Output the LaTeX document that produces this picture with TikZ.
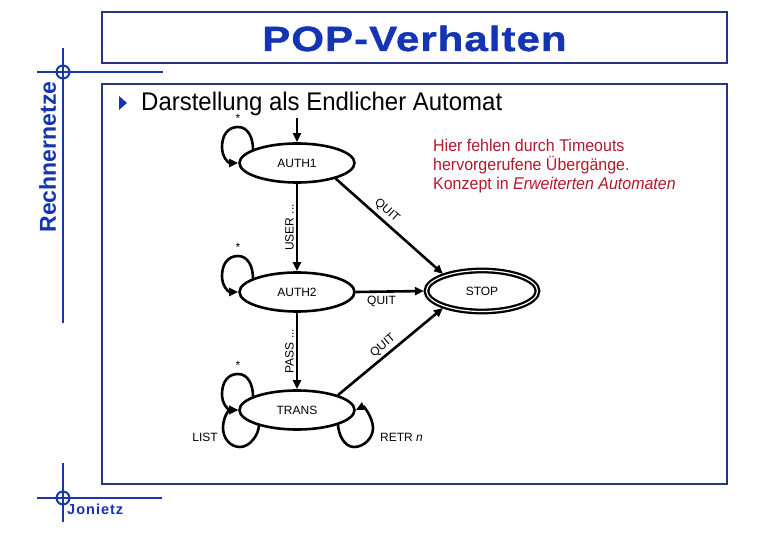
\documentclass[tikz,border=0pt]{standalone}
\usepackage{fontspec}
\setmainfont{Liberation Sans}
\newfontfamily\titlefont[FakeStretch=1.2,LetterSpace=3,FakeBold=1.2]{Liberation Sans}
\newfontfamily\narrowfont[FakeStretch=0.94]{Liberation Sans}
\newfontfamily\authorfont[LetterSpace=7]{Liberation Sans}
\usetikzlibrary{shapes.geometric,arrows.meta,calc}
\definecolor{titleblue}{RGB}{20,52,180}
\definecolor{crossblue}{RGB}{25,55,165}
\definecolor{framenavy}{RGB}{35,55,125}
\definecolor{notered}{RGB}{175,25,45}
\tikzset{
  frame/.style={draw=framenavy,line width=1.3pt},
  crossline/.style={draw=crossblue,line width=2pt},
  state/.style={ellipse,draw,line width=2.6pt,minimum width=115pt,minimum height=39pt,inner sep=0pt,font=\fontsize{12}{14}\selectfont},
  edge/.style={line width=2.6pt,-{Triangle[length=9pt,width=8pt]}},
  lbl/.style={font=\fontsize{12}{14}\selectfont,inner sep=2pt},
  note/.style={notered,anchor=base west,inner sep=0pt,font=\narrowfont\fontsize{17}{19}\selectfont}
}
\begin{document}
\begin{tikzpicture}[x=1pt,y=-1pt]
\useasboundingbox (0,0) rectangle (780,540);
% frames
\draw[frame] (102,12) rectangle (727,63);
\draw[frame] (102,84) rectangle (727,484);
\node[anchor=base,titleblue,inner sep=0pt,font=\titlefont\bfseries\fontsize{35}{40}\selectfont] (title) at (414.5,51) {POP-Verhalten};
% crosses
\draw[crossline] (63,48) -- (63,323);
\draw[crossline] (37,72) -- (163,72);
\draw[crossline] (63,72) circle (6.5);
\draw[crossline] (63,463) -- (63,522);
\draw[crossline] (37,498) -- (162,498);
\draw[crossline] (63,498) circle (6.5);
\node[rotate=90,anchor=base,titleblue,inner sep=0pt,font=\bfseries\fontsize{23}{26}\selectfont] (brand) at (56,157) {Rechnernetze};
\node[anchor=base west,titleblue,inner sep=0pt,font=\authorfont\bfseries\fontsize{14.5}{16}\selectfont] (author) at (67,514) {Jonietz};
% bullet
\fill[titleblue] (119,96) -- (119,110) -- (127,103) -- cycle;
\node[anchor=base west,inner sep=0pt,font=\narrowfont\fontsize{25.5}{28}\selectfont] (head) at (141,111) {Darstellung als Endlicher Automat};
% note
\node[note] (n1) at (433,151.5) {Hier fehlen durch Timeouts};
\node[note] (n2) at (433,171) {hervorgerufene Übergänge.};
\node[note] (n3) at (433,190) {Konzept in \textit{Erweiterten Automaten}};
% states
\node[state] (a1) at (297,163) {AUTH1};
\node[state] (a2) at (297,292) {AUTH2};
\node[state] (tr) at (297,410) {TRANS};
\node[state,double,double distance=1.2pt,line width=2.3pt,minimum width=111pt,minimum height=41pt] (stop) at (482,291) {STOP};
\coordinate (init) at (297,118);
% edges
\draw[edge] (init) -- (a1);
\draw[edge] (a1) -- node[lbl,midway,rotate=90,anchor=south] {USER ...} (a2);
\draw[edge] (a2) -- node[lbl,midway,rotate=90,anchor=south] {PASS ...} (tr);
\draw[edge,shorten >=1.5pt] (a1.-22) -- node[lbl,pos=0.41,sloped,above,inner sep=3.5pt] {QUIT} (stop.157);
\draw[edge,shorten >=1.5pt] (a2.east) -- node[lbl,pos=0.37,below,inner sep=3pt] {QUIT} (stop.west);
\draw[edge,shorten >=1.5pt] (tr.20) -- node[lbl,pos=0.48,sloped,above,inner sep=2.5pt] {QUIT} (stop.203);
% self loops (upper left)
\foreach \s in {a1,a2,tr}{
  \draw[edge] ($(\s)+(-44,-13.5)$) .. controls +(0,-12) and +(10,0) .. ($(\s)+(-59,-36)$)
     .. controls +(-10,0) and +(0,-12) .. ($(\s)+(-75,-16)$)
     .. controls +(0,10) and +(-10,0) .. (\s.west);
  \node[lbl,anchor=base,inner sep=0pt] (star\s) at ($(\s)+(-59,-40)$) {*};
}
% LIST loop
\draw[edge] ($(tr)+(-38,14.6)$) .. controls +(0,10) and +(10,0) .. ($(tr)+(-57,37)$)
   .. controls +(-10,0) and +(0,10) .. ($(tr)+(-74,18)$)
   .. controls +(0,-10) and +(-10,0) .. (tr.west);
\node[lbl,anchor=east] (listl) at (220,437) {LIST};
% RETR loop
\draw[edge] ($(tr)+(41,13.7)$) .. controls +(0,10) and +(-10,0) .. ($(tr)+(57,37)$)
   .. controls +(10,0) and +(0,10) .. ($(tr)+(76,18)$)
   .. controls +(0,-10) and +(8,-4) .. (tr.east);
\node[lbl,anchor=west] (retrl) at (378,437) {RETR \textit{n}};
\end{tikzpicture}
\end{document}
